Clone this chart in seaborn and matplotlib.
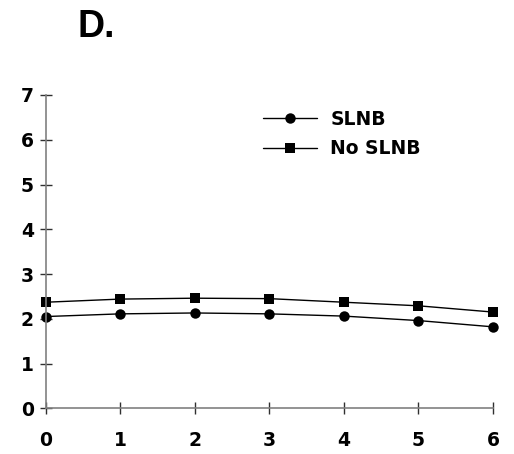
import matplotlib
matplotlib.use("Agg")
import matplotlib.pyplot as plt
import seaborn as sns
import pandas as pd

# Years since diagnosis and mean scores for each group
years = [0, 1, 2, 3, 4, 5, 6]
slnb = [2.05, 2.11, 2.13, 2.11, 2.06, 1.96, 1.82]
no_slnb = [2.37, 2.44, 2.46, 2.45, 2.37, 2.29, 2.15]
groups = ["SLNB", "No SLNB"]
y_ticks = [0, 1, 2, 3, 4, 5, 6, 7]

df = pd.DataFrame({
    "year": years * 2,
    "value": slnb + no_slnb,
    "group": [groups[0]] * len(years) + [groups[1]] * len(years),
})

sns.set_style("white")
plt.rcParams["font.family"] = ["DejaVu Sans"]
plt.rcParams["text.color"] = "black"
plt.rcParams["xtick.labelcolor"] = "black"
plt.rcParams["ytick.labelcolor"] = "black"

fig = plt.figure(figsize=(5.14, 4.54), dpi=100)
ax = fig.add_axes([45.7 / 514, 1 - 408.3 / 454, (493 - 45.7) / 514, (408.3 - 95) / 454])

sns.lineplot(
    data=df, x="year", y="value", hue="group", style="group",
    hue_order=groups, style_order=groups,
    palette=["black", "black"],
    markers={"SLNB": "o", "No SLNB": "s"}, dashes=False,
    markersize=7.5, linewidth=1, markeredgewidth=0,
    ax=ax, clip_on=False,
)

ax.set_xlim(0, 6)
ax.set_ylim(0, 7)
ax.set_xticks(years)
ax.set_yticks(y_ticks)
ax.set_xlabel("")
ax.set_ylabel("")

for side in ["top", "right"]:
    ax.spines[side].set_visible(False)
for side in ["left", "bottom"]:
    ax.spines[side].set_color("#808080")
    ax.spines[side].set_linewidth(1.2)

ax.tick_params(axis="both", bottom=True, left=True, direction="inout", length=9,
               width=1, color="#303030", labelsize=13.5, labelcolor="black")
ax.tick_params(axis="y", pad=4)
ax.tick_params(axis="x", pad=12)
for lbl in ax.get_xticklabels() + ax.get_yticklabels():
    lbl.set_fontweight("bold")

leg = ax.legend(
    loc="upper left", bbox_to_anchor=(263 / 514, 1 - 110 / 454),
    bbox_transform=fig.transFigure, frameon=False, borderpad=0, borderaxespad=0,
    handlelength=2.9, handletextpad=0.7, labelspacing=0.55,
    prop={"family": "DejaVu Sans", "size": 13.5, "weight": "bold"},
)
for t in leg.get_texts():
    t.set_fontweight("bold")
    t.set_color("black")

fig.text(77 / 514, 1 - 37 / 454, "D.", fontsize=27, fontweight="bold", color="black",
         family="Liberation Sans", ha="left", va="baseline")

fig.savefig("out.png", dpi=100)
